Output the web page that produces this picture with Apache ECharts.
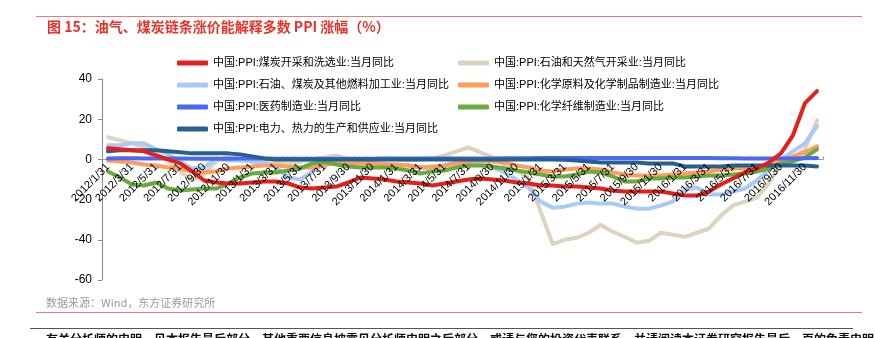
<!DOCTYPE html>
<html><head><meta charset="utf-8">
<script src="https://cdn.jsdelivr.net/npm/echarts@6/dist/echarts.min.js"></script>
<style>html,body{margin:0;padding:0;background:#fff}#c{width:875px;height:338px}</style>
</head><body><div id="c"></div>
<script>
const categories = [
"2012/1/31","2012/2/29","2012/3/31","2012/4/30","2012/5/31","2012/6/30","2012/7/31","2012/8/31","2012/9/30","2012/10/31","2012/11/30","2012/12/31",
"2013/1/31","2013/2/28","2013/3/31","2013/4/30","2013/5/31","2013/6/30","2013/7/31","2013/8/31","2013/9/30","2013/10/31","2013/11/30","2013/12/31",
"2014/1/31","2014/2/28","2014/3/31","2014/4/30","2014/5/31","2014/6/30","2014/7/31","2014/8/31","2014/9/30","2014/10/31","2014/11/30","2014/12/31",
"2015/1/31","2015/2/28","2015/3/31","2015/4/30","2015/5/31","2015/6/30","2015/7/31","2015/8/31","2015/9/30","2015/10/31","2015/11/30","2015/12/31",
"2016/1/31","2016/2/29","2016/3/31","2016/4/30","2016/5/31","2016/6/30","2016/7/31","2016/8/31","2016/9/30","2016/10/31","2016/11/30","2016/12/31"];

const seriesNames = [
"中国:PPI:煤炭开采和洗选业:当月同比",
"中国:PPI:石油和天然气开采业:当月同比",
"中国:PPI:石油、煤炭及其他燃料加工业:当月同比",
"中国:PPI:化学原料及化学制品制造业:当月同比",
"中国:PPI:医药制造业:当月同比",
"中国:PPI:化学纤维制造业:当月同比",
"中国:PPI:电力、热力的生产和供应业:当月同比"];

const coal = [5.5,5,4.5,4,2,0,-2,-6,-10.5,-11.5, -12,-12,-11.5,-11,-11,-12,-14,-14.5,-14,-13.5, -11.5,-9,-9.5,-10,-11,-11.5,-12,-13,-12,-11, -10,-9.5,-10,-10.5,-11.5,-12,-13,-13,-13.5,-13.5, -14,-14.5,-15.5,-16,-16,-16,-16,-17,-18,-18, -16,-12.5,-9.5,-6.5,-4.5,-1.5,3,12,28,34];
const oilGas = [11,9.5,8,6,3,-1,-6,-10.5,-7,-1, 1.5,0,-1,-2,-1.5,-2,-1,0,1,2, 0,-0.5,0,0.5,0,-0.5,0,0.5,2,4, 6,3.5,1,-3,-5.5,-9.5,-26,-42,-40,-39, -36.5,-32.5,-36,-38.5,-41.5,-40.5,-36.5,-37.5,-38.5,-36.5, -34.5,-28,-23,-21,-19,-12,-2,1,5,19.5];
const refining = [7,7,8,8,5,2.5,-1,-4.5,-4,0.5, -0.5,-0.5,-1,-1.5,-4,-9,-10,-6,-2,-1.5, -1.5,-1.5,-1.5,-2,-3,-3,-4,-4.5,-3,-1.5, -2,-2,-4,-6.5,-10,-14,-21,-24,-23.5,-22, -21.5,-22,-22,-23.5,-24.5,-24.5,-23,-21,-15,-14, -17.5,-17.5,-16,-14.5,-10.5,-5,0,4,8,16.5];
const chemical = [-0.5,-1,-1.5,-2.5,-3,-4,-4.5,-6,-6.5,-6, -4.5,-4,-3.5,-3,-3,-3.5,-4,-4,-3,-1.5, -2,-2,-2,-2.5,-2.5,-3,-4,-3.5,-3,-2, -1,-0.5,-1,-1.5,-3,-4,-5.5,-6,-5,-4.5, -4.5,-5,-6.5,-7.5,-8,-8,-8,-7.5,-7,-6.5, -6,-5,-4.5,-4.5,-4,-2.5,-0.5,1.5,3.5,6.5];
const medicine = [0.5,0.6,0.6,0.5,0.5,0.4,0.4,0.3,0.3,0.3, 0.3,0.4,0.4,0.4,0.3,0.3,0.3,0.3,0.3,0.3, 0.3,0.3,0.3,0.4,0.4,0.4,0.4,0.4,0.4,0.4, 0.5,0.5,0.5,0.6,0.6,0.6,0.7,0.7,0.7,0.7, 0.7,0.7,0.7,0.7,0.7,0.7,0.7,0.7,0.7,0.7, 0.7,0.6,0.6,0.5,0.5,0.5,0.5,0.5,0.6,0.7];
const fiber = [-6,-9,-12.5,-13,-11.5,-14.5,-15.5,-15,-14.5,-14.5, -12,-9,-7,-6.5,-6.5,-5.5,-4.5,-2,-1.3,-2.5, -3.5,-4,-4,-4,-4.5,-5.5,-7,-6,-5.5,-4, -3,-3,-3.5,-4.5,-5.5,-6.5,-7.5,-8.5,-8.5,-7.5, -6,-6.5,-8.5,-11,-11,-9.5,-9.5,-9,-9,-8.5, -8,-8,-7.5,-7,-6,-4.5,-2,-1,1,5];
const power = [4,4.5,4.5,4.5,4.5,4,3.5,3,3,3, 3,2.5,1.5,0.5,0,0,0,0,0,0, 0,0,0,0,0,0,0,0,0,0, 0,0,0,0,0,0,0,0,-0.2,-0.5, -1,-1.5,-1.5,-1.5,-1.5,-2,-2,-2,-3.5,-3.5, -3.5,-3.5,-3,-3,-3,-3,-3,-3,-3,-3.5];

const yTicks = {min:-60, max:40, interval:20};

const colors = ["#E3201B","#DDD3C1","#A9C9F7","#FF9D5C","#4A68F2","#6AAA3E","#27608F"];
const dataList = [coal, oilGas, refining, chemical, medicine, fiber, power];
const drawOrder = [1,2,3,5,4,6,0];

const FONT = "'Liberation Sans','Noto Sans CJK SC',sans-serif";
const chart = echarts.init(document.getElementById('c'), null, {renderer:'canvas'});

const GRID_TOP = 79, GRID_BOTTOM = 58, H = 338;
const gridH = H - GRID_TOP - GRID_BOTTOM;
const zeroOffset = -gridH * (0 - yTicks.min) / (yTicks.max - yTicks.min);

const series = drawOrder.map(i => ({
  name: seriesNames[i], type:'line', xAxisIndex:0, data: dataList[i], showSymbol:false, symbol:'none',
  smooth:false, lineStyle:{width:4, color:colors[i], cap:'round', join:'round'}, itemStyle:{color:colors[i]}
}));

const legendBase = {orient:'vertical', itemWidth:31, itemHeight:5, itemGap:8, icon:'roundRect',
  textStyle:{fontSize:11, color:'#000', fontFamily:FONT, lineHeight:14}};

chart.setOption({
  animation:false,
  backgroundColor:'#fff',
  color: colors,
  title:{text:'图 15：油气、煤炭链条涨价能解释多数 PPI 涨幅（%）', left:47, top:20, padding:0,
    textStyle:{color:'#E5322B', fontSize:14, fontWeight:'bold', fontFamily:"'Noto Sans CJK SC',sans-serif"}},
  legend:[
    Object.assign({}, legendBase, {left:172, top:51, data:[seriesNames[0],seriesNames[2],seriesNames[4],seriesNames[6]]}),
    Object.assign({}, legendBase, {left:453, top:51, data:[seriesNames[1],seriesNames[3],seriesNames[5]]})
  ],
  grid:{left:102, right:52, top:GRID_TOP, bottom:GRID_BOTTOM, containLabel:false},
  xAxis:[
    {type:'category', data:categories, boundaryGap:true, position:'bottom', offset:zeroOffset, z:0,
      axisLine:{show:true, onZero:false, lineStyle:{color:'#999', width:1}},
      axisTick:{show:true, inside:true, interval:0, length:3, lineStyle:{color:'#999'}},
      axisLabel:{show:false},
      splitLine:{show:false}},
    {type:'category', data:categories, boundaryGap:true, position:'bottom', offset:zeroOffset, z:10,
      axisLine:{show:false, onZero:false},
      axisTick:{show:false},
      axisLabel:{interval:1, rotate:45, fontSize:11, color:'#000', fontFamily:FONT, margin:6},
      splitLine:{show:false}}
  ],
  yAxis:{type:'value', min:yTicks.min, max:yTicks.max, interval:yTicks.interval,
    axisLine:{show:true, lineStyle:{color:'#888'}},
    axisTick:{show:true, length:4, lineStyle:{color:'#888'}},
    axisLabel:{fontSize:12, color:'#000', fontFamily:FONT, margin:10},
    splitLine:{show:false}},
  series: series,
  graphic:[
    {type:'line', shape:{x1:36,y1:16.5,x2:862,y2:16.5}, style:{stroke:'#EE7A7A', lineWidth:1}},
    {type:'text', left:46, top:297, style:{text:'数据来源：Wind，东方证券研究所', fill:'#9A9A9A', font:"11px 'Noto Sans CJK SC',sans-serif"}},
    {type:'line', shape:{x1:36,y1:312.5,x2:862,y2:312.5}, style:{stroke:'#EE7A7A', lineWidth:1}},
    {type:'line', shape:{x1:30,y1:328.5,x2:853,y2:328.5}, style:{stroke:'#555', lineWidth:1}},
    {type:'text', left:46, top:333, style:{text:'有关分析师的申明，见本报告最后部分。其他重要信息披露见分析师申明之后部分，或请与您的投资代表联系。并请阅读本证券研究报告最后一页的免责申明。', fill:'#111', font:"bold 12px 'Noto Sans CJK SC',sans-serif"}}
  ]
});
</script>
</body></html>
